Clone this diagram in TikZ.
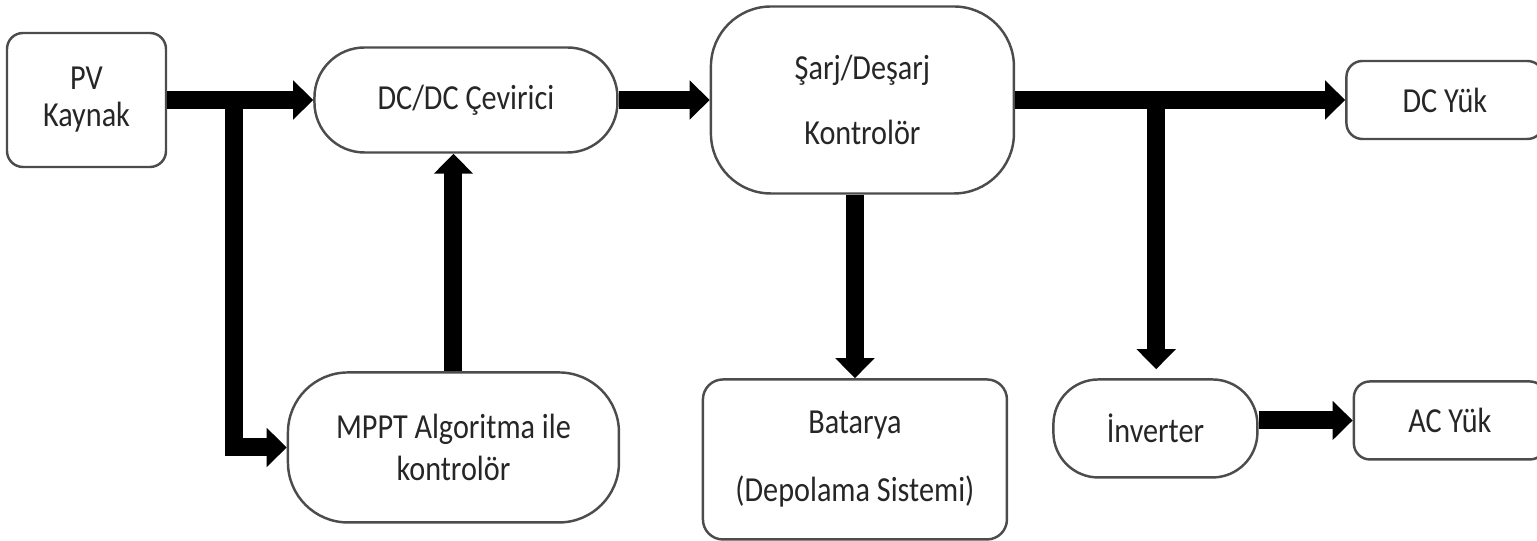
\documentclass[tikz,border=0pt]{standalone}
\usepackage{fontspec}
\setmainfont{Carlito}[FakeStretch=0.86]
\usetikzlibrary{positioning, arrows.meta}

\begin{document}
\begin{tikzpicture}[
        box/.style={rectangle, draw=black!70, line width=0.7pt, rounded corners=0.16cm,
                    inner sep=0pt, align=center, font=\fontsize{10}{12}\selectfont, text=black!85},
        pill/.style={box, rounded corners=0.5cm},
        arrow/.style={-{Triangle[width=0.38cm, length=0.2cm]}, line width=0.18cm, draw=black}
    ]
        \useasboundingbox (0,0) rectangle (15.37,-5.41);

        \node[box, minimum width=1.59cm, minimum height=1.34cm] (pv) at (0.865,-1.00) {PV\\[-1.5pt]Kaynak};
        \node[pill, minimum width=3.03cm, minimum height=1.05cm, right=1.46cm of pv] (dcdc) {DC/DC Çevirici};
        \node[pill, rounded corners=0.6cm, minimum width=3.03cm, minimum height=1.87cm,
              right=0.91cm of dcdc] (sarj) {Şarj/Deşarj\\[6.5pt]Kontrolör};
        \node[box, minimum width=1.97cm, minimum height=0.78cm, right=3.30cm of sarj] (dcyuk) {DC Yük};
        \node[pill, rounded corners=0.6cm, minimum width=3.31cm, minimum height=1.50cm,
              below=2.175cm of dcdc, xshift=-0.125cm] (mppt) {MPPT Algoritma ile\\kontrolör};
        \node[box, rounded corners=0.2cm, minimum width=3.04cm, minimum height=1.60cm,
              below=1.835cm of sarj, xshift=-0.075cm] (batarya) {Batarya\\[7.3pt](Depolama Sistemi)};
        \node[pill, rounded corners=0.45cm, minimum width=2.04cm, minimum height=0.98cm,
              right=0.44cm of batarya, yshift=0.31cm] (inverter) {İnverter};
        \node[box, minimum width=1.92cm, minimum height=0.78cm, right=0.94cm of inverter,
              yshift=0.08cm] (acyuk) {AC Yük};

        \coordinate[right=0.67cm of pv.east] (split1);
        \coordinate[right=1.41cm of sarj.east] (split2);

        \draw[arrow] (pv) -- (dcdc);
        \draw[arrow] (split1) |- (mppt.west);
        \draw[arrow] (mppt.north) -- (mppt.north |- dcdc.south);
        \draw[arrow] (dcdc) -- (sarj);
        \draw[arrow] (sarj) -- (dcyuk);
        \draw[arrow] (batarya.north |- sarj.south) -- (batarya.north);
        \draw[arrow, shorten >=0.09cm] (split2) -- (split2 |- inverter.north);
        \draw[arrow] (inverter.east |- acyuk.west) -- (acyuk.west);
    \end{tikzpicture}
\end{document}
